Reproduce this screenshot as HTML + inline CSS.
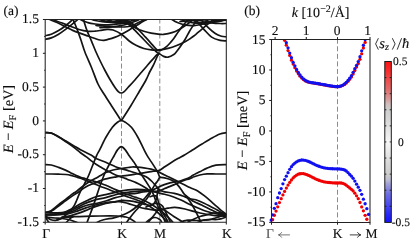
<!DOCTYPE html>
<html><head><meta charset="utf-8"><title>bands</title>
<style>
html,body{margin:0;padding:0;background:#fff;}
body{width:411px;height:247px;overflow:hidden;position:relative;font-family:"Liberation Serif",serif;color:#1a1a1a;}
svg{position:absolute;left:0;top:0;}
.t{position:absolute;white-space:nowrap;line-height:1;font-size:13px;color:#1c1c1c;}
.r{text-align:right;}
.i{font-style:italic;}
</style></head><body>

<svg width="411" height="247" viewBox="0 0 411 247">
<defs><clipPath id="ca"><rect x="45.20" y="19.50" width="181.10" height="202.80"/></clipPath>
<clipPath id="cb"><rect x="269.50" y="39.00" width="102.50" height="183.90"/></clipPath>
<linearGradient id="cbar" x1="0" y1="0" x2="0" y2="1"><stop offset="0.0000" stop-color="#ff1212"/><stop offset="0.0500" stop-color="#fa2828"/><stop offset="0.1026" stop-color="#f04646"/><stop offset="0.1770" stop-color="#e26e6e"/><stop offset="0.2390" stop-color="#d7a0a0"/><stop offset="0.2640" stop-color="#d2bebe"/><stop offset="0.3000" stop-color="#cdcdcd"/><stop offset="0.3640" stop-color="#d7d7d7"/><stop offset="0.4260" stop-color="#e6e6e6"/><stop offset="0.5000" stop-color="#f6f6f6"/><stop offset="0.5740" stop-color="#e6e6e6"/><stop offset="0.6360" stop-color="#d7d7d7"/><stop offset="0.7000" stop-color="#cdcdcd"/><stop offset="0.7360" stop-color="#bebed2"/><stop offset="0.7610" stop-color="#a0a0d7"/><stop offset="0.8230" stop-color="#6e6ee2"/><stop offset="0.8974" stop-color="#4646f0"/><stop offset="0.9500" stop-color="#2828fa"/><stop offset="1.0000" stop-color="#1212ff"/></linearGradient></defs>
<line x1="121.50" y1="19.50" x2="121.50" y2="222.30" stroke="#858585" stroke-width="0.95" stroke-dasharray="5 2.5" stroke-dashoffset="1"/>
<line x1="159.80" y1="19.50" x2="159.80" y2="222.30" stroke="#858585" stroke-width="0.95" stroke-dasharray="5 2.5" stroke-dashoffset="1"/>
<g clip-path="url(#ca)" fill="none" stroke="#141414" stroke-width="1.7" stroke-linecap="round" stroke-linejoin="round">
<path d="M70.00 11.00C70.53 12.43 71.93 16.33 73.20 19.60C74.47 22.87 76.27 27.07 77.60 30.60C78.93 34.13 79.98 37.23 81.20 40.80C82.42 44.37 83.22 47.63 84.90 52.00C86.58 56.37 89.12 61.67 91.30 67.00C93.48 72.33 95.88 79.50 98.00 84.00C100.12 88.50 101.67 90.25 104.00 94.00C106.33 97.75 109.58 102.75 112.00 106.50C114.42 110.25 116.97 114.20 118.50 116.50C120.03 118.80 120.28 120.30 121.20 120.30C122.12 120.30 122.37 118.97 124.00 116.50C125.63 114.03 128.50 109.58 131.00 105.50C133.50 101.42 136.50 96.25 139.00 92.00C141.50 87.75 144.22 83.33 146.00 80.00C147.78 76.67 148.47 74.47 149.70 72.00C150.93 69.53 152.30 67.43 153.40 65.20C154.50 62.97 155.58 60.18 156.30 58.60C157.02 57.02 157.25 56.50 157.70 55.70C158.15 54.90 158.78 54.12 159.00 53.80"/>
<path d="M80.60 11.00C81.07 12.43 82.33 16.33 83.40 19.60C84.47 22.87 85.67 27.07 87.00 30.60C88.33 34.13 89.90 37.23 91.40 40.80C92.90 44.37 94.45 48.47 96.00 52.00C97.55 55.53 99.20 58.92 100.70 62.00C102.20 65.08 103.45 67.58 105.00 70.50C106.55 73.42 108.33 76.67 110.00 79.50C111.67 82.33 113.62 85.48 115.00 87.50C116.38 89.52 117.27 90.68 118.30 91.60C119.33 92.52 120.22 93.00 121.20 93.00C122.18 93.00 123.07 92.52 124.20 91.60C125.33 90.68 126.37 89.27 128.00 87.50C129.63 85.73 131.72 83.58 134.00 81.00C136.28 78.42 139.45 74.63 141.70 72.00C143.95 69.37 145.55 67.43 147.50 65.20C149.45 62.97 151.82 60.35 153.40 58.60C154.98 56.85 156.07 55.60 157.00 54.70C157.93 53.80 158.67 53.45 159.00 53.20"/>
<path d="M45.20 214.80C45.40 215.08 45.95 215.97 46.40 216.50C46.85 217.03 47.00 217.42 47.90 218.00C48.80 218.58 50.33 219.65 51.80 220.00C53.27 220.35 55.08 220.43 56.70 220.10C58.32 219.77 59.88 218.92 61.50 218.00C63.12 217.08 64.93 215.82 66.40 214.60C67.87 213.38 69.00 212.20 70.30 210.70C71.60 209.20 73.12 207.38 74.20 205.60C75.28 203.82 75.83 202.22 76.80 200.00C77.77 197.78 78.70 195.03 80.00 192.30C81.30 189.57 83.20 186.32 84.60 183.60C86.00 180.88 87.13 178.85 88.40 176.00C89.67 173.15 90.85 169.87 92.20 166.50C93.55 163.13 95.20 158.68 96.50 155.80C97.80 152.92 98.45 152.25 100.00 149.20C101.55 146.15 103.73 141.15 105.80 137.50C107.87 133.85 110.45 129.85 112.40 127.30C114.35 124.75 116.02 123.30 117.50 122.20C118.98 121.10 120.00 120.70 121.30 120.70C122.60 120.70 123.62 121.10 125.30 122.20C126.98 123.30 129.28 124.75 131.40 127.30C133.52 129.85 135.93 133.85 138.00 137.50C140.07 141.15 142.27 146.18 143.80 149.20C145.33 152.22 145.98 153.53 147.20 155.60C148.42 157.67 149.80 159.60 151.10 161.60C152.40 163.60 153.88 165.78 155.00 167.60C156.12 169.42 157.02 170.88 157.80 172.50C158.58 174.12 159.38 176.50 159.70 177.30"/>
<path d="M86.00 227.00C86.18 226.22 86.32 224.67 87.10 222.30C87.88 219.93 89.48 216.08 90.70 212.80C91.92 209.52 93.22 206.03 94.40 202.60C95.58 199.17 96.85 195.05 97.80 192.20C98.75 189.35 99.23 187.92 100.10 185.50C100.97 183.08 102.15 179.87 103.00 177.70C103.85 175.53 104.42 174.20 105.20 172.50C105.98 170.80 106.80 169.25 107.70 167.50C108.60 165.75 109.55 163.92 110.60 162.00C111.65 160.08 112.85 158.02 114.00 156.00C115.15 153.98 116.28 151.45 117.50 149.90C118.72 148.35 120.00 146.70 121.30 146.70C122.60 146.70 123.95 148.35 125.30 149.90C126.65 151.45 128.12 154.17 129.40 156.00C130.68 157.83 131.97 159.43 133.00 160.90C134.03 162.37 134.42 162.87 135.60 164.80C136.78 166.73 138.48 169.88 140.10 172.50C141.72 175.12 143.72 178.07 145.30 180.50C146.88 182.93 148.52 185.42 149.60 187.10C150.68 188.78 151.07 189.12 151.80 190.60C152.53 192.08 153.13 193.77 154.00 196.00C154.87 198.23 156.00 201.50 157.00 204.00C158.00 206.50 158.92 208.67 160.00 211.00C161.08 213.33 162.33 215.50 163.50 218.00C164.67 220.50 166.42 224.67 167.00 226.00"/>
<path d="M45.00 35.70C46.05 35.45 49.03 35.05 51.30 34.20C53.57 33.35 56.17 32.05 58.60 30.60C61.03 29.15 63.72 27.20 65.90 25.50C68.08 23.80 70.02 22.15 71.70 20.40C73.38 18.65 75.28 15.90 76.00 15.00"/>
<path d="M45.00 39.40C46.05 39.15 49.03 38.77 51.30 37.90C53.57 37.03 56.17 35.67 58.60 34.20C61.03 32.73 63.47 30.92 65.90 29.10C68.33 27.28 71.25 24.88 73.20 23.30C75.15 21.72 76.13 20.98 77.60 19.60C79.07 18.22 81.27 15.77 82.00 15.00"/>
<path d="M40.00 14.00C41.63 14.93 46.70 18.05 49.80 19.60C52.90 21.15 55.92 22.07 58.60 23.30C61.28 24.53 63.47 25.78 65.90 27.00C68.33 28.22 70.77 29.53 73.20 30.60C75.63 31.67 78.07 32.50 80.50 33.40C82.93 34.30 85.37 35.15 87.80 36.00C90.23 36.85 93.07 37.83 95.10 38.50C97.13 39.17 98.52 39.70 100.00 40.00C101.48 40.30 102.78 40.37 104.00 40.30C105.22 40.23 105.53 40.08 107.30 39.60C109.07 39.12 112.23 38.30 114.60 37.40C116.97 36.50 119.07 35.45 121.50 34.20C123.93 32.95 126.70 31.35 129.20 29.90C131.70 28.45 134.07 26.97 136.50 25.50C138.93 24.03 142.10 22.08 143.80 21.10C145.50 20.12 145.33 20.45 146.70 19.60C148.07 18.75 151.12 16.60 152.00 16.00"/>
<path d="M46.00 15.00C47.13 15.77 50.22 18.30 52.80 19.60C55.38 20.90 58.58 21.70 61.50 22.80C64.42 23.90 67.38 25.08 70.30 26.20C73.22 27.32 76.08 28.65 79.00 29.50C81.92 30.35 85.12 31.02 87.80 31.30C90.48 31.58 93.07 31.33 95.10 31.20C97.13 31.07 97.97 30.82 100.00 30.50C102.03 30.18 105.12 29.38 107.30 29.30C109.48 29.22 110.73 29.18 113.10 30.00C115.47 30.82 118.82 32.37 121.50 34.20C124.18 36.03 126.70 39.10 129.20 41.00C131.70 42.90 134.07 44.35 136.50 45.60C138.93 46.85 141.37 47.80 143.80 48.50C146.23 49.20 148.47 49.57 151.10 49.80C153.73 50.03 156.78 50.13 159.60 49.90C162.42 49.67 165.15 49.13 168.00 48.40C170.85 47.67 173.78 46.67 176.70 45.50C179.62 44.33 183.30 42.52 185.50 41.40C187.70 40.28 188.52 39.70 189.90 38.80C191.28 37.90 191.93 37.50 193.80 36.00C195.67 34.50 198.73 31.83 201.10 29.80C203.47 27.77 206.18 25.30 208.00 23.80C209.82 22.30 211.00 21.53 212.00 20.80C213.00 20.07 212.67 20.37 214.00 19.40C215.33 18.43 219.00 15.73 220.00 15.00"/>
<path d="M118.00 13.00C119.00 14.08 121.77 17.42 124.00 19.50C126.23 21.58 129.32 24.02 131.40 25.50C133.48 26.98 134.43 27.43 136.50 28.40C138.57 29.37 141.37 30.50 143.80 31.30C146.23 32.10 148.42 32.70 151.10 33.20C153.78 33.70 157.82 34.10 159.90 34.30C161.98 34.50 161.58 34.68 163.60 34.40C165.62 34.12 169.40 33.43 172.00 32.60C174.60 31.77 176.78 30.70 179.20 29.40C181.62 28.10 184.32 26.30 186.50 24.80C188.68 23.30 191.05 21.37 192.30 20.40C193.55 19.43 193.05 19.90 194.00 19.00C194.95 18.10 197.33 15.67 198.00 15.00"/>
<path d="M76.00 14.00C76.75 14.93 78.53 18.17 80.50 19.60C82.47 21.03 85.37 21.87 87.80 22.60C90.23 23.33 92.42 23.63 95.10 24.00C97.78 24.37 101.08 24.70 103.90 24.80C106.72 24.90 109.32 24.77 112.00 24.60C114.68 24.43 117.83 24.03 120.00 23.80C122.17 23.57 123.67 23.20 125.00 23.20C126.33 23.20 126.42 22.68 128.00 23.80C129.58 24.92 132.25 27.67 134.50 29.90C136.75 32.13 139.17 34.77 141.50 37.20C143.83 39.63 146.58 42.53 148.50 44.50C150.42 46.47 151.70 47.78 153.00 49.00C154.30 50.22 155.30 51.07 156.30 51.80C157.30 52.53 157.78 52.63 159.00 53.40C160.22 54.17 162.10 55.77 163.60 56.40C165.10 57.03 166.30 57.52 168.00 57.20C169.70 56.88 172.30 55.53 173.80 54.50C175.30 53.47 175.97 52.25 177.00 51.00C178.03 49.75 178.63 48.97 180.00 47.00C181.37 45.03 183.63 41.78 185.20 39.20C186.77 36.62 187.97 33.95 189.40 31.50C190.83 29.05 192.58 26.42 193.80 24.50C195.02 22.58 195.83 21.42 196.70 20.00C197.57 18.58 198.62 16.67 199.00 16.00"/>
<path d="M94.00 15.00C95.00 15.80 97.67 18.72 100.00 19.80C102.33 20.88 105.33 21.00 108.00 21.50C110.67 22.00 113.33 22.52 116.00 22.80C118.67 23.08 121.83 23.18 124.00 23.20C126.17 23.22 127.58 22.80 129.00 22.90C130.42 23.00 131.00 22.77 132.50 23.80C134.00 24.83 135.83 26.87 138.00 29.10C140.17 31.33 143.43 34.95 145.50 37.20C147.57 39.45 148.73 40.73 150.40 42.60C152.07 44.47 154.15 47.07 155.50 48.40C156.85 49.73 157.52 50.35 158.50 50.60C159.48 50.85 160.07 50.57 161.40 49.90C162.73 49.23 164.98 47.83 166.50 46.60C168.02 45.37 169.32 43.80 170.50 42.50C171.68 41.20 172.23 40.67 173.60 38.80C174.97 36.93 176.98 33.68 178.70 31.30C180.42 28.92 182.35 26.48 183.90 24.50C185.45 22.52 186.90 20.90 188.00 19.40C189.10 17.90 190.08 16.15 190.50 15.50"/>
<path d="M190.00 13.00C190.97 14.17 193.42 17.20 195.80 20.00C198.18 22.80 201.67 26.95 204.30 29.80C206.93 32.65 208.97 35.33 211.60 37.10C214.23 38.87 217.65 39.77 220.10 40.40C222.55 41.03 225.27 40.82 226.30 40.90"/>
<path d="M196.00 13.00C196.88 14.17 199.30 17.60 201.30 20.00C203.30 22.40 205.67 25.15 208.00 27.40C210.33 29.65 213.07 32.03 215.30 33.50C217.53 34.97 219.57 35.65 221.40 36.20C223.23 36.75 225.48 36.70 226.30 36.80"/>
<path d="M166.00 15.00C167.00 15.77 170.00 18.30 172.00 19.60C174.00 20.90 175.67 21.87 178.00 22.80C180.33 23.73 183.33 24.73 186.00 25.20C188.67 25.67 191.33 25.77 194.00 25.60C196.67 25.43 199.33 24.77 202.00 24.20C204.67 23.63 207.33 22.82 210.00 22.20C212.67 21.58 215.28 20.90 218.00 20.50C220.72 20.10 224.92 19.92 226.30 19.80"/>
<path d="M174.00 15.00C175.17 15.77 178.67 18.43 181.00 19.60C183.33 20.77 185.50 21.40 188.00 22.00C190.50 22.60 193.33 23.10 196.00 23.20C198.67 23.30 201.33 22.93 204.00 22.60C206.67 22.27 209.33 21.70 212.00 21.20C214.67 20.70 218.00 20.13 220.00 19.60C222.00 19.07 223.33 18.27 224.00 18.00"/>
<path d="M180.00 21.50C181.33 21.38 185.33 21.00 188.00 20.80C190.67 20.60 193.33 20.27 196.00 20.30C198.67 20.33 201.33 20.58 204.00 21.00C206.67 21.42 209.33 22.38 212.00 22.80C214.67 23.22 217.62 23.38 220.00 23.50C222.38 23.62 225.25 23.50 226.30 23.50"/>
<path d="M186.00 15.00C187.00 15.77 190.00 18.35 192.00 19.60C194.00 20.85 196.00 21.80 198.00 22.50C200.00 23.20 202.00 23.68 204.00 23.80C206.00 23.92 208.00 23.58 210.00 23.20C212.00 22.82 214.00 22.10 216.00 21.50C218.00 20.90 221.00 19.92 222.00 19.60"/>
<path d="M200.00 15.00C200.83 15.77 203.33 18.52 205.00 19.60C206.67 20.68 208.17 21.13 210.00 21.50C211.83 21.87 214.00 21.92 216.00 21.80C218.00 21.68 220.28 21.10 222.00 20.80C223.72 20.50 225.58 20.13 226.30 20.00"/>
<path d="M84.00 14.00C85.33 14.93 89.67 18.43 92.00 19.60C94.33 20.77 96.00 20.63 98.00 21.00C100.00 21.37 101.67 21.58 104.00 21.80C106.33 22.02 109.33 22.17 112.00 22.30C114.67 22.43 117.67 22.60 120.00 22.60C122.33 22.60 124.17 22.57 126.00 22.30C127.83 22.03 129.33 21.45 131.00 21.00C132.67 20.55 134.50 20.27 136.00 19.60C137.50 18.93 139.33 17.43 140.00 17.00"/>
<path d="M96.00 25.50C97.00 25.55 100.00 25.65 102.00 25.80C104.00 25.95 105.67 26.23 108.00 26.40C110.33 26.57 113.33 26.70 116.00 26.80C118.67 26.90 121.67 27.10 124.00 27.00C126.33 26.90 128.00 26.73 130.00 26.20C132.00 25.67 134.00 24.70 136.00 23.80C138.00 22.90 140.33 21.68 142.00 20.80C143.67 19.92 145.33 18.88 146.00 18.50"/>
<path d="M100.00 27.60C101.00 27.57 104.00 27.50 106.00 27.40C108.00 27.30 110.00 27.20 112.00 27.00C114.00 26.80 116.00 26.53 118.00 26.20C120.00 25.87 122.00 25.50 124.00 25.00C126.00 24.50 128.00 23.87 130.00 23.20C132.00 22.53 134.33 21.70 136.00 21.00C137.67 20.30 139.33 19.33 140.00 19.00"/>
<path d="M100.00 15.00C101.00 15.77 104.00 18.60 106.00 19.60C108.00 20.60 110.00 20.73 112.00 21.00C114.00 21.27 116.00 21.27 118.00 21.20C120.00 21.13 122.00 20.87 124.00 20.60C126.00 20.33 128.33 20.03 130.00 19.60C131.67 19.17 133.33 18.27 134.00 18.00"/>
<path d="M108.00 15.00C109.00 15.77 112.00 18.67 114.00 19.60C116.00 20.53 118.00 20.27 120.00 20.60C122.00 20.93 124.00 21.03 126.00 21.60C128.00 22.17 130.33 23.18 132.00 24.00C133.67 24.82 135.33 26.08 136.00 26.50"/>
<path d="M45.20 132.60C46.22 132.67 49.07 132.32 51.30 133.00C53.53 133.68 56.17 135.35 58.60 136.70C61.03 138.05 63.47 139.65 65.90 141.10C68.33 142.55 70.77 143.95 73.20 145.40C75.63 146.85 78.07 148.45 80.50 149.80C82.93 151.15 85.85 152.50 87.80 153.50C89.75 154.50 90.83 154.98 92.20 155.80C93.57 156.62 93.75 157.32 96.00 158.40C98.25 159.48 102.45 160.92 105.70 162.30C108.95 163.68 112.87 165.63 115.50 166.70C118.13 167.77 119.40 168.05 121.50 168.70C123.60 169.35 125.70 169.88 128.10 170.60C130.50 171.32 133.28 172.13 135.90 173.00C138.52 173.87 141.78 174.97 143.80 175.80C145.82 176.63 146.63 177.05 148.00 178.00C149.37 178.95 150.67 180.17 152.00 181.50C153.33 182.83 154.72 184.58 156.00 186.00C157.28 187.42 158.27 189.03 159.70 190.00C161.13 190.97 162.17 191.25 164.60 191.80C167.03 192.35 171.38 192.65 174.30 193.30C177.22 193.95 179.50 194.80 182.10 195.70C184.70 196.60 187.62 198.02 189.90 198.70C192.18 199.38 193.52 199.08 195.80 199.80C198.08 200.52 201.00 201.80 203.60 203.00C206.20 204.20 209.13 205.83 211.40 207.00C213.67 208.17 215.43 209.03 217.20 210.00C218.97 210.97 220.48 212.03 222.00 212.80C223.52 213.57 225.58 214.30 226.30 214.60"/>
<path d="M45.20 132.60C46.22 132.68 49.07 132.37 51.30 133.10C53.53 133.83 56.17 135.55 58.60 137.00C61.03 138.45 63.47 140.15 65.90 141.80C68.33 143.45 70.77 145.08 73.20 146.90C75.63 148.72 78.37 151.08 80.50 152.70C82.63 154.32 84.30 155.33 86.00 156.60C87.70 157.87 89.03 159.02 90.70 160.30C92.37 161.58 94.15 163.07 96.00 164.30C97.85 165.53 99.85 166.57 101.80 167.70C103.75 168.83 105.75 170.05 107.70 171.10C109.65 172.15 111.55 173.12 113.50 174.00C115.45 174.88 117.45 175.67 119.40 176.40C121.35 177.13 123.58 177.80 125.20 178.40C126.82 179.00 127.30 179.30 129.10 180.00C130.90 180.70 133.68 181.57 136.00 182.60C138.32 183.63 141.00 185.05 143.00 186.20C145.00 187.35 146.58 188.73 148.00 189.50C149.42 190.27 150.20 190.33 151.50 190.80C152.80 191.27 153.62 191.72 155.80 192.30C157.98 192.88 161.52 193.48 164.60 194.30C167.68 195.12 171.38 196.15 174.30 197.20C177.22 198.25 179.50 199.38 182.10 200.60C184.70 201.82 187.25 203.27 189.90 204.50C192.55 205.73 195.15 206.83 198.00 208.00C200.85 209.17 203.83 210.50 207.00 211.50C210.17 212.50 213.78 213.33 217.00 214.00C220.22 214.67 224.75 215.25 226.30 215.50"/>
<path d="M45.20 164.60C46.22 164.67 49.07 164.53 51.30 165.00C53.53 165.47 56.15 166.50 58.60 167.40C61.05 168.30 63.95 169.48 66.00 170.40C68.05 171.32 69.28 172.08 70.90 172.90C72.52 173.72 74.08 174.57 75.70 175.30C77.32 176.03 78.97 176.73 80.60 177.30C82.23 177.87 83.88 178.22 85.50 178.70C87.12 179.18 88.68 179.72 90.30 180.20C91.92 180.68 93.57 181.12 95.20 181.60C96.83 182.08 98.32 182.50 100.10 183.10C101.88 183.70 103.33 184.12 105.90 185.20C108.47 186.28 112.90 188.43 115.50 189.60C118.10 190.77 119.40 191.33 121.50 192.20C123.60 193.07 125.70 193.93 128.10 194.80C130.50 195.67 133.42 196.53 135.90 197.40C138.38 198.27 140.65 198.98 143.00 200.00C145.35 201.02 147.67 202.17 150.00 203.50C152.33 204.83 154.67 206.33 157.00 208.00C159.33 209.67 161.83 211.67 164.00 213.50C166.17 215.33 168.00 216.92 170.00 219.00C172.00 221.08 175.00 224.83 176.00 226.00"/>
<path d="M45.20 174.00C46.22 174.00 49.07 173.97 51.30 174.00C53.53 174.03 56.15 174.12 58.60 174.20C61.05 174.28 63.95 174.32 66.00 174.50C68.05 174.68 69.28 174.92 70.90 175.30C72.52 175.68 74.08 176.32 75.70 176.80C77.32 177.28 78.97 177.63 80.60 178.20C82.23 178.77 83.88 179.55 85.50 180.20C87.12 180.85 88.68 181.45 90.30 182.10C91.92 182.75 93.57 183.40 95.20 184.10C96.83 184.80 98.35 185.60 100.10 186.30C101.85 187.00 103.13 187.32 105.70 188.30C108.27 189.28 112.87 191.18 115.50 192.20C118.13 193.22 119.40 193.60 121.50 194.40C123.60 195.20 125.70 196.13 128.10 197.00C130.50 197.87 133.42 198.68 135.90 199.60C138.38 200.52 140.65 201.35 143.00 202.50C145.35 203.65 147.83 205.08 150.00 206.50C152.17 207.92 154.00 209.33 156.00 211.00C158.00 212.67 160.17 214.67 162.00 216.50C163.83 218.33 165.67 220.25 167.00 222.00C168.33 223.75 169.50 226.17 170.00 227.00"/>
<path d="M45.20 212.50C45.97 212.30 48.38 211.95 49.80 211.30C51.22 210.65 52.23 209.72 53.70 208.60C55.17 207.48 56.97 205.87 58.60 204.60C60.23 203.33 62.28 201.90 63.50 201.00C64.72 200.10 64.28 200.47 65.90 199.20C67.52 197.93 71.57 194.60 73.20 193.40C74.83 192.20 74.47 192.90 75.70 192.00C76.93 191.10 78.97 189.30 80.60 188.00C82.23 186.70 83.88 185.33 85.50 184.20C87.12 183.07 88.68 182.13 90.30 181.20C91.92 180.27 93.50 179.55 95.20 178.60C96.90 177.65 98.75 176.50 100.50 175.50C102.25 174.50 104.02 173.38 105.70 172.60C107.38 171.82 108.97 171.32 110.60 170.80C112.23 170.28 113.68 169.88 115.50 169.50C117.32 169.12 119.40 168.83 121.50 168.50C123.60 168.17 126.35 167.75 128.10 167.50C129.85 167.25 130.60 167.07 132.00 167.00C133.40 166.93 134.53 166.97 136.50 167.10C138.47 167.23 141.37 167.45 143.80 167.80C146.23 168.15 149.07 168.70 151.10 169.20C153.13 169.70 154.57 170.23 156.00 170.80C157.43 171.37 158.27 171.92 159.70 172.60C161.13 173.28 162.97 174.12 164.60 174.90C166.23 175.68 167.07 176.08 169.50 177.30C171.93 178.52 175.80 180.50 179.20 182.20C182.60 183.90 186.82 186.05 189.90 187.50C192.98 188.95 195.10 189.37 197.70 190.90C200.30 192.43 203.07 194.75 205.50 196.70C207.93 198.65 210.35 200.90 212.30 202.60C214.25 204.30 215.57 205.47 217.20 206.90C218.83 208.33 220.58 209.98 222.10 211.20C223.62 212.42 225.60 213.70 226.30 214.20"/>
<path d="M45.20 212.60C45.97 212.48 48.38 212.38 49.80 211.90C51.22 211.42 52.23 210.68 53.70 209.70C55.17 208.72 56.97 207.22 58.60 206.00C60.23 204.78 62.28 203.30 63.50 202.40C64.72 201.50 64.28 201.77 65.90 200.60C67.52 199.43 71.07 196.83 73.20 195.40C75.33 193.97 76.98 193.17 78.70 192.00C80.42 190.83 81.88 189.48 83.50 188.40C85.12 187.32 86.77 186.30 88.40 185.50C90.03 184.70 91.68 184.25 93.30 183.60C94.92 182.95 96.48 182.25 98.10 181.60C99.72 180.95 101.47 180.20 103.00 179.70C104.53 179.20 105.37 179.02 107.30 178.60C109.23 178.18 112.23 177.63 114.60 177.20C116.97 176.77 119.07 176.33 121.50 176.00C123.93 175.67 126.70 175.53 129.20 175.20C131.70 174.87 134.07 174.40 136.50 174.00C138.93 173.60 141.37 173.20 143.80 172.80C146.23 172.40 149.07 171.90 151.10 171.60C153.13 171.30 154.57 171.23 156.00 171.00C157.43 170.77 158.23 170.92 159.70 170.20C161.17 169.48 162.98 167.90 164.80 166.70C166.62 165.50 168.42 164.35 170.60 163.00C172.78 161.65 175.58 159.93 177.90 158.60C180.22 157.27 182.08 156.43 184.50 155.00C186.92 153.57 189.48 151.83 192.40 150.00C195.32 148.17 198.73 146.00 202.00 144.00C205.27 142.00 209.00 139.67 212.00 138.00C215.00 136.33 217.62 134.90 220.00 134.00C222.38 133.10 225.25 132.83 226.30 132.60"/>
<path d="M45.20 212.50C46.62 212.55 50.65 212.83 53.70 212.80C56.75 212.77 60.90 212.77 63.50 212.30C66.10 211.83 67.35 210.90 69.30 210.00C71.25 209.10 73.33 207.93 75.20 206.90C77.07 205.87 78.40 204.92 80.50 203.80C82.60 202.68 85.22 201.38 87.80 200.20C90.38 199.02 93.02 197.62 96.00 196.70C98.98 195.78 102.45 195.43 105.70 194.70C108.95 193.97 112.87 192.95 115.50 192.30C118.13 191.65 119.40 191.22 121.50 190.80C123.60 190.38 125.70 190.03 128.10 189.80C130.50 189.57 133.42 189.43 135.90 189.40C138.38 189.37 140.48 189.43 143.00 189.60C145.52 189.77 148.87 190.58 151.00 190.40C153.13 190.22 154.02 189.30 155.80 188.50C157.58 187.70 159.75 186.42 161.70 185.60C163.65 184.78 165.55 184.17 167.50 183.60C169.45 183.03 171.45 182.60 173.40 182.20C175.35 181.80 177.27 181.68 179.20 181.20C181.13 180.72 183.22 179.95 185.00 179.30C186.78 178.65 188.65 177.92 189.90 177.30C191.15 176.68 190.85 176.52 192.50 175.60C194.15 174.68 197.37 173.05 199.80 171.80C202.23 170.55 204.42 169.20 207.10 168.10C209.78 167.00 212.70 165.78 215.90 165.20C219.10 164.62 224.57 164.70 226.30 164.60"/>
<path d="M45.20 212.60C46.62 212.67 50.65 212.95 53.70 213.00C56.75 213.05 60.90 213.20 63.50 212.90C66.10 212.60 67.35 211.93 69.30 211.20C71.25 210.47 73.33 209.42 75.20 208.50C77.07 207.58 78.40 206.72 80.50 205.70C82.60 204.68 85.22 203.42 87.80 202.40C90.38 201.38 93.02 200.40 96.00 199.60C98.98 198.80 102.45 198.42 105.70 197.60C108.95 196.78 112.87 195.42 115.50 194.70C118.13 193.98 119.40 193.70 121.50 193.30C123.60 192.90 125.70 192.63 128.10 192.30C130.50 191.97 133.42 191.55 135.90 191.30C138.38 191.05 140.48 190.92 143.00 190.80C145.52 190.68 148.92 190.50 151.00 190.60C153.08 190.70 154.05 191.35 155.50 191.40C156.95 191.45 158.18 191.38 159.70 190.90C161.22 190.42 162.97 189.22 164.60 188.50C166.23 187.78 167.88 187.25 169.50 186.60C171.12 185.95 172.68 185.30 174.30 184.60C175.92 183.90 177.58 183.10 179.20 182.40C180.82 181.70 182.22 181.03 184.00 180.40C185.78 179.77 188.23 179.20 189.90 178.60C191.57 178.00 192.35 177.40 194.00 176.80C195.65 176.20 197.62 175.48 199.80 175.00C201.98 174.52 204.42 174.07 207.10 173.90C209.78 173.73 212.70 173.98 215.90 174.00C219.10 174.02 224.57 174.00 226.30 174.00"/>
<path d="M45.20 214.80C46.62 214.80 50.65 214.93 53.70 214.80C56.75 214.67 60.90 214.38 63.50 214.00C66.10 213.62 67.35 213.13 69.30 212.50C71.25 211.87 73.33 211.02 75.20 210.20C77.07 209.38 78.40 208.47 80.50 207.60C82.60 206.73 85.22 205.68 87.80 205.00C90.38 204.32 93.02 204.17 96.00 203.50C98.98 202.83 102.45 201.98 105.70 201.00C108.95 200.02 112.87 198.40 115.50 197.60C118.13 196.80 119.40 196.77 121.50 196.20C123.60 195.63 125.70 194.68 128.10 194.20C130.50 193.72 133.42 193.67 135.90 193.30C138.38 192.93 140.48 192.42 143.00 192.00C145.52 191.58 149.67 191.00 151.00 190.80"/>
<path d="M62.00 217.00C63.33 216.80 67.33 216.40 70.00 215.80C72.67 215.20 75.33 214.30 78.00 213.40C80.67 212.50 83.88 211.23 86.00 210.40C88.12 209.57 89.03 209.07 90.70 208.40C92.37 207.73 93.50 207.22 96.00 206.40C98.50 205.58 102.45 204.30 105.70 203.50C108.95 202.70 112.78 202.12 115.50 201.60C118.22 201.08 119.62 200.52 122.00 200.40C124.38 200.28 127.20 200.57 129.80 200.90C132.40 201.23 135.17 201.83 137.60 202.40C140.03 202.97 142.45 203.82 144.40 204.30C146.35 204.78 148.00 205.22 149.30 205.30C150.60 205.38 151.40 205.12 152.20 204.80C153.00 204.48 153.53 204.05 154.10 203.40C154.67 202.75 155.18 201.80 155.60 200.90C156.02 200.00 156.30 199.23 156.60 198.00C156.90 196.77 157.13 195.00 157.40 193.50C157.67 192.00 158.07 189.75 158.20 189.00"/>
<path d="M45.20 214.80C46.62 214.82 50.65 214.95 53.70 214.90C56.75 214.85 60.90 214.73 63.50 214.50C66.10 214.27 67.35 213.95 69.30 213.50C71.25 213.05 72.77 212.62 75.20 211.80C77.63 210.98 81.32 209.53 83.90 208.60C86.48 207.67 88.68 206.83 90.70 206.20C92.72 205.57 93.80 205.33 96.00 204.80C98.20 204.27 101.57 203.43 103.90 203.00C106.23 202.57 107.98 202.40 110.00 202.20C112.02 202.00 114.00 201.85 116.00 201.80C118.00 201.75 120.03 201.63 122.00 201.90C123.97 202.17 125.85 202.83 127.80 203.40C129.75 203.97 131.75 204.65 133.70 205.30C135.65 205.95 137.55 206.73 139.50 207.30C141.45 207.87 143.45 208.30 145.40 208.70C147.35 209.10 149.25 209.45 151.20 209.70C153.15 209.95 155.30 210.20 157.10 210.20C158.90 210.20 160.18 210.03 162.00 209.70C163.82 209.37 165.83 208.58 168.00 208.20C170.17 207.82 172.17 207.27 175.00 207.40C177.83 207.53 180.83 208.07 185.00 209.00C189.17 209.93 195.00 211.90 200.00 213.00C205.00 214.10 210.62 215.07 215.00 215.60C219.38 216.13 224.42 216.10 226.30 216.20"/>
<path d="M57.00 220.00C57.67 219.77 59.50 219.07 61.00 218.60C62.50 218.13 63.83 217.52 66.00 217.20C68.17 216.88 70.83 216.85 74.00 216.70C77.17 216.55 80.67 216.42 85.00 216.30C89.33 216.18 95.83 216.07 100.00 216.00C104.17 215.93 107.08 215.90 110.00 215.90C112.92 215.90 115.50 215.90 117.50 216.00C119.50 216.10 120.60 216.33 122.00 216.50C123.40 216.67 124.60 216.68 125.90 217.00C127.20 217.32 128.50 217.75 129.80 218.40C131.10 219.05 132.82 220.27 133.70 220.90C134.58 221.53 134.55 221.35 135.10 222.20C135.65 223.05 136.68 225.37 137.00 226.00"/>
<path d="M45.20 216.50C45.58 217.17 46.62 219.32 47.50 220.50C48.38 221.68 49.08 222.68 50.50 223.60C51.92 224.52 54.08 225.73 56.00 226.00C57.92 226.27 60.27 225.80 62.00 225.20C63.73 224.60 65.07 223.50 66.40 222.40C67.73 221.30 68.90 219.53 70.00 218.60C71.10 217.67 72.50 217.10 73.00 216.80"/>
<path d="M45.20 217.20C46.83 217.33 52.20 217.78 55.00 218.00C57.80 218.22 59.78 218.25 62.00 218.50C64.22 218.75 66.43 219.08 68.30 219.50C70.17 219.92 71.73 220.48 73.20 221.00C74.67 221.52 75.97 221.93 77.10 222.60C78.23 223.27 79.52 224.60 80.00 225.00"/>
<path d="M124.00 227.00C124.48 226.17 125.62 223.92 126.90 222.00C128.18 220.08 130.08 217.55 131.70 215.50C133.32 213.45 134.97 211.57 136.60 209.70C138.23 207.83 139.88 206.00 141.50 204.30C143.12 202.60 144.95 201.13 146.30 199.50C147.65 197.87 148.68 196.08 149.60 194.50C150.52 192.92 150.92 191.65 151.80 190.00C152.68 188.35 153.90 186.15 154.90 184.60C155.90 183.05 157.00 181.92 157.80 180.70C158.60 179.48 159.38 177.87 159.70 177.30"/>
<path d="M92.00 227.00C92.83 226.25 95.07 223.70 97.00 222.50C98.93 221.30 100.80 220.58 103.60 219.80C106.40 219.02 110.82 218.52 113.80 217.80C116.78 217.08 118.80 216.55 121.50 215.50C124.20 214.45 127.25 213.17 130.00 211.50C132.75 209.83 135.50 207.75 138.00 205.50C140.50 203.25 142.92 200.38 145.00 198.00C147.08 195.62 149.58 192.33 150.50 191.20"/>
<path d="M146.00 227.00C146.38 226.22 147.07 224.13 148.30 222.30C149.53 220.47 151.70 218.13 153.40 216.00C155.10 213.87 157.45 210.83 158.50 209.50C159.55 208.17 158.45 207.75 159.70 208.00C160.95 208.25 163.65 209.58 166.00 211.00C168.35 212.42 171.13 214.75 173.80 216.50C176.47 218.25 179.63 219.92 182.00 221.50C184.37 223.08 187.00 225.25 188.00 226.00"/>
<path d="M143.00 227.00C143.67 226.08 145.63 222.93 147.00 221.50C148.37 220.07 149.85 219.07 151.20 218.40C152.55 217.73 153.80 217.42 155.10 217.50C156.40 217.58 158.02 218.33 159.00 218.90C159.98 219.47 160.33 219.72 161.00 220.90C161.67 222.08 162.67 225.15 163.00 226.00"/>
<path d="M159.70 177.30C160.52 177.38 162.97 177.47 164.60 177.80C166.23 178.13 167.88 178.65 169.50 179.30C171.12 179.95 172.85 180.65 174.30 181.70C175.75 182.75 177.05 184.28 178.20 185.60C179.35 186.92 180.15 188.13 181.20 189.60C182.25 191.07 183.05 192.85 184.50 194.40C185.95 195.95 188.35 197.70 189.90 198.90C191.45 200.10 191.85 200.58 193.80 201.60C195.75 202.62 199.00 203.78 201.60 205.00C204.20 206.22 206.83 207.65 209.40 208.90C211.97 210.15 214.18 211.48 217.00 212.50C219.82 213.52 224.75 214.58 226.30 215.00"/>
<path d="M150.00 196.70C150.65 196.53 152.77 195.70 153.90 195.70C155.03 195.70 156.15 196.05 156.80 196.70C157.45 197.35 157.47 198.47 157.80 199.60C158.13 200.73 158.32 202.03 158.80 203.50C159.28 204.97 159.92 206.65 160.70 208.40C161.48 210.15 162.45 212.07 163.50 214.00C164.55 215.93 165.92 218.00 167.00 220.00C168.08 222.00 169.50 225.00 170.00 226.00"/>
<path d="M146.00 207.00C146.67 206.75 148.52 206.08 150.00 205.50C151.48 204.92 153.28 203.75 154.90 203.50C156.52 203.25 158.40 203.52 159.70 204.00C161.00 204.48 161.88 205.40 162.70 206.40C163.52 207.40 163.72 208.23 164.60 210.00C165.48 211.77 166.77 214.33 168.00 217.00C169.23 219.67 171.33 224.50 172.00 226.00"/>
<path d="M186.00 196.00C186.67 196.92 188.70 199.53 190.00 201.50C191.30 203.47 192.67 205.77 193.80 207.80C194.93 209.83 195.82 211.75 196.80 213.70C197.78 215.65 198.83 217.62 199.70 219.50C200.57 221.38 201.62 224.08 202.00 225.00"/>
<path d="M176.00 226.00C176.67 225.42 178.00 223.47 180.00 222.50C182.00 221.53 185.05 220.53 188.00 220.20C190.95 219.87 194.45 220.53 197.70 220.50C200.95 220.47 204.90 220.32 207.50 220.00C210.10 219.68 211.20 219.20 213.30 218.60C215.40 218.00 217.93 217.05 220.10 216.40C222.27 215.75 225.27 214.98 226.30 214.70"/>
<path d="M188.00 222.00C189.00 221.50 192.00 219.92 194.00 219.00C196.00 218.08 197.75 217.23 200.00 216.50C202.25 215.77 205.28 215.15 207.50 214.60C209.72 214.05 211.20 213.48 213.30 213.20C215.40 212.92 217.93 212.77 220.10 212.90C222.27 213.03 225.27 213.82 226.30 214.00"/>
<path d="M192.00 226.00C192.95 225.42 195.77 223.50 197.70 222.50C199.63 221.50 201.65 220.50 203.60 220.00C205.55 219.50 207.13 219.58 209.40 219.50C211.67 219.42 215.08 219.67 217.20 219.50C219.32 219.33 220.58 218.93 222.10 218.50C223.62 218.07 225.60 217.17 226.30 216.90"/>
</g>
<g stroke="#222222" stroke-width="1.05" fill="none">
<path d="M45.20 19.50 H226.30 V222.30 H45.20 Z"/>
<path d="M45.20 19.50 h-2.30"/>
<path d="M45.20 36.40 h-1.00"/>
<path d="M45.20 53.30 h-2.30"/>
<path d="M45.20 70.20 h-1.00"/>
<path d="M45.20 87.10 h-2.30"/>
<path d="M45.20 104.00 h-1.00"/>
<path d="M45.20 120.90 h-2.30"/>
<path d="M45.20 137.80 h-1.00"/>
<path d="M45.20 154.70 h-2.30"/>
<path d="M45.20 171.60 h-1.00"/>
<path d="M45.20 188.50 h-2.30"/>
<path d="M45.20 205.40 h-1.00"/>
<path d="M45.20 222.30 h-2.30"/>
<path d="M45.20 222.30 v2.3"/>
<path d="M121.50 222.30 v2.3"/>
<path d="M159.80 222.30 v2.3"/>
<path d="M226.30 222.30 v2.3"/>
</g>
<line x1="337.50" y1="39.50" x2="337.50" y2="222.40" stroke="#858585" stroke-width="0.95" stroke-dasharray="5 2.55" stroke-dashoffset="0.75"/>
<g clip-path="url(#cb)">
<circle cx="270.90" cy="3.66" r="1.65" fill="#f00000"/>
<circle cx="272.61" cy="5.94" r="1.65" fill="#f00000"/>
<circle cx="274.33" cy="9.58" r="1.65" fill="#f00000"/>
<circle cx="276.04" cy="14.22" r="1.65" fill="#f00000"/>
<circle cx="277.75" cy="19.51" r="1.65" fill="#f00000"/>
<circle cx="279.46" cy="25.08" r="1.65" fill="#f00000"/>
<circle cx="281.18" cy="30.59" r="1.65" fill="#f00000"/>
<circle cx="282.89" cy="35.69" r="1.65" fill="#f00000"/>
<circle cx="284.60" cy="40.34" r="1.65" fill="#f00000"/>
<circle cx="286.32" cy="45.18" r="1.65" fill="#f00000"/>
<circle cx="288.03" cy="50.57" r="1.65" fill="#f00000"/>
<circle cx="289.74" cy="55.44" r="1.65" fill="#f00000"/>
<circle cx="291.46" cy="60.21" r="1.65" fill="#f00000"/>
<circle cx="293.17" cy="64.10" r="1.65" fill="#f00000"/>
<circle cx="294.88" cy="67.64" r="1.65" fill="#f00000"/>
<circle cx="296.59" cy="71.05" r="1.65" fill="#f00000"/>
<circle cx="298.31" cy="73.82" r="1.65" fill="#f00000"/>
<circle cx="300.02" cy="76.13" r="1.65" fill="#f00000"/>
<circle cx="301.73" cy="78.05" r="1.65" fill="#f00000"/>
<circle cx="303.45" cy="79.59" r="1.65" fill="#f00000"/>
<circle cx="305.16" cy="80.77" r="1.65" fill="#f00000"/>
<circle cx="306.87" cy="81.62" r="1.65" fill="#f00000"/>
<circle cx="308.59" cy="82.20" r="1.65" fill="#f00000"/>
<circle cx="310.30" cy="82.59" r="1.65" fill="#f00000"/>
<circle cx="312.01" cy="82.87" r="1.65" fill="#f00000"/>
<circle cx="313.72" cy="83.10" r="1.65" fill="#f00000"/>
<circle cx="315.44" cy="83.35" r="1.65" fill="#f00000"/>
<circle cx="317.15" cy="83.63" r="1.65" fill="#f00000"/>
<circle cx="318.86" cy="83.92" r="1.65" fill="#f00000"/>
<circle cx="320.58" cy="84.23" r="1.65" fill="#f00000"/>
<circle cx="322.29" cy="84.56" r="1.65" fill="#f00000"/>
<circle cx="324.00" cy="84.89" r="1.65" fill="#f00000"/>
<circle cx="325.72" cy="85.22" r="1.65" fill="#f00000"/>
<circle cx="327.43" cy="85.53" r="1.65" fill="#f00000"/>
<circle cx="329.14" cy="85.83" r="1.65" fill="#f00000"/>
<circle cx="330.85" cy="86.09" r="1.65" fill="#f00000"/>
<circle cx="332.57" cy="86.33" r="1.65" fill="#f00000"/>
<circle cx="334.28" cy="86.55" r="1.65" fill="#f00000"/>
<circle cx="335.99" cy="86.72" r="1.65" fill="#f00000"/>
<circle cx="337.71" cy="86.74" r="1.65" fill="#f00000"/>
<circle cx="339.42" cy="86.51" r="1.65" fill="#f00000"/>
<circle cx="341.13" cy="86.06" r="1.65" fill="#f00000"/>
<circle cx="342.85" cy="85.37" r="1.65" fill="#f00000"/>
<circle cx="344.56" cy="84.38" r="1.65" fill="#f00000"/>
<circle cx="346.27" cy="83.03" r="1.65" fill="#f00000"/>
<circle cx="347.99" cy="81.32" r="1.65" fill="#f00000"/>
<circle cx="349.70" cy="79.32" r="1.65" fill="#f00000"/>
<circle cx="351.41" cy="77.01" r="1.65" fill="#f00000"/>
<circle cx="353.12" cy="74.07" r="1.65" fill="#f00000"/>
<circle cx="354.84" cy="70.52" r="1.65" fill="#f00000"/>
<circle cx="356.55" cy="67.01" r="1.65" fill="#f00000"/>
<circle cx="358.26" cy="63.55" r="1.65" fill="#f00000"/>
<circle cx="359.98" cy="59.35" r="1.65" fill="#f00000"/>
<circle cx="361.69" cy="53.82" r="1.65" fill="#f00000"/>
<circle cx="363.40" cy="47.98" r="1.65" fill="#f00000"/>
<circle cx="365.12" cy="42.44" r="1.65" fill="#f00000"/>
<circle cx="366.83" cy="36.64" r="1.65" fill="#f00000"/>
<circle cx="368.54" cy="30.87" r="1.65" fill="#f00000"/>
<circle cx="270.90" cy="3.08" r="1.65" fill="#1010f0"/>
<circle cx="272.61" cy="4.57" r="1.65" fill="#1010f0"/>
<circle cx="274.33" cy="7.58" r="1.65" fill="#1010f0"/>
<circle cx="276.04" cy="11.77" r="1.65" fill="#1010f0"/>
<circle cx="277.75" cy="16.78" r="1.65" fill="#1010f0"/>
<circle cx="279.46" cy="22.25" r="1.65" fill="#1010f0"/>
<circle cx="281.18" cy="27.84" r="1.65" fill="#1010f0"/>
<circle cx="282.89" cy="33.18" r="1.65" fill="#1010f0"/>
<circle cx="284.60" cy="38.01" r="1.65" fill="#1010f0"/>
<circle cx="286.32" cy="42.65" r="1.65" fill="#1010f0"/>
<circle cx="288.03" cy="47.81" r="1.65" fill="#1010f0"/>
<circle cx="289.74" cy="53.09" r="1.65" fill="#1010f0"/>
<circle cx="291.46" cy="57.74" r="1.65" fill="#1010f0"/>
<circle cx="293.17" cy="62.30" r="1.65" fill="#1010f0"/>
<circle cx="294.88" cy="65.78" r="1.65" fill="#1010f0"/>
<circle cx="296.59" cy="69.39" r="1.65" fill="#1010f0"/>
<circle cx="298.31" cy="72.46" r="1.65" fill="#1010f0"/>
<circle cx="300.02" cy="74.98" r="1.65" fill="#1010f0"/>
<circle cx="301.73" cy="77.10" r="1.65" fill="#1010f0"/>
<circle cx="303.45" cy="78.83" r="1.65" fill="#1010f0"/>
<circle cx="305.16" cy="80.18" r="1.65" fill="#1010f0"/>
<circle cx="306.87" cy="81.19" r="1.65" fill="#1010f0"/>
<circle cx="308.59" cy="81.89" r="1.65" fill="#1010f0"/>
<circle cx="310.30" cy="82.37" r="1.65" fill="#1010f0"/>
<circle cx="312.01" cy="82.69" r="1.65" fill="#1010f0"/>
<circle cx="313.72" cy="82.93" r="1.65" fill="#1010f0"/>
<circle cx="315.44" cy="83.18" r="1.65" fill="#1010f0"/>
<circle cx="317.15" cy="83.44" r="1.65" fill="#1010f0"/>
<circle cx="318.86" cy="83.73" r="1.65" fill="#1010f0"/>
<circle cx="320.58" cy="84.03" r="1.65" fill="#1010f0"/>
<circle cx="322.29" cy="84.35" r="1.65" fill="#1010f0"/>
<circle cx="324.00" cy="84.68" r="1.65" fill="#1010f0"/>
<circle cx="325.72" cy="85.02" r="1.65" fill="#1010f0"/>
<circle cx="327.43" cy="85.35" r="1.65" fill="#1010f0"/>
<circle cx="329.14" cy="85.66" r="1.65" fill="#1010f0"/>
<circle cx="330.85" cy="85.95" r="1.65" fill="#1010f0"/>
<circle cx="332.57" cy="86.22" r="1.65" fill="#1010f0"/>
<circle cx="334.28" cy="86.46" r="1.65" fill="#1010f0"/>
<circle cx="335.99" cy="86.66" r="1.65" fill="#1010f0"/>
<circle cx="337.71" cy="86.68" r="1.65" fill="#1010f0"/>
<circle cx="339.42" cy="86.41" r="1.65" fill="#1010f0"/>
<circle cx="341.13" cy="85.87" r="1.65" fill="#1010f0"/>
<circle cx="342.85" cy="85.04" r="1.65" fill="#1010f0"/>
<circle cx="344.56" cy="83.88" r="1.65" fill="#1010f0"/>
<circle cx="346.27" cy="82.32" r="1.65" fill="#1010f0"/>
<circle cx="347.99" cy="80.42" r="1.65" fill="#1010f0"/>
<circle cx="349.70" cy="78.27" r="1.65" fill="#1010f0"/>
<circle cx="351.41" cy="75.67" r="1.65" fill="#1010f0"/>
<circle cx="353.12" cy="72.36" r="1.65" fill="#1010f0"/>
<circle cx="354.84" cy="68.72" r="1.65" fill="#1010f0"/>
<circle cx="356.55" cy="65.30" r="1.65" fill="#1010f0"/>
<circle cx="358.26" cy="61.59" r="1.65" fill="#1010f0"/>
<circle cx="359.98" cy="56.74" r="1.65" fill="#1010f0"/>
<circle cx="361.69" cy="50.78" r="1.65" fill="#1010f0"/>
<circle cx="363.40" cy="45.24" r="1.65" fill="#1010f0"/>
<circle cx="365.12" cy="39.51" r="1.65" fill="#1010f0"/>
<circle cx="366.83" cy="33.73" r="1.65" fill="#1010f0"/>
<circle cx="368.54" cy="27.94" r="1.65" fill="#1010f0"/>
<circle cx="270.90" cy="224.78" r="1.65" fill="#f00000"/>
<circle cx="272.61" cy="219.74" r="1.65" fill="#f00000"/>
<circle cx="274.33" cy="215.26" r="1.65" fill="#f00000"/>
<circle cx="276.04" cy="211.06" r="1.65" fill="#f00000"/>
<circle cx="277.75" cy="206.81" r="1.65" fill="#f00000"/>
<circle cx="279.46" cy="202.62" r="1.65" fill="#f00000"/>
<circle cx="281.18" cy="198.68" r="1.65" fill="#f00000"/>
<circle cx="282.89" cy="194.95" r="1.65" fill="#f00000"/>
<circle cx="284.60" cy="191.40" r="1.65" fill="#f00000"/>
<circle cx="286.32" cy="188.06" r="1.65" fill="#f00000"/>
<circle cx="288.03" cy="185.05" r="1.65" fill="#f00000"/>
<circle cx="289.74" cy="182.38" r="1.65" fill="#f00000"/>
<circle cx="291.46" cy="180.00" r="1.65" fill="#f00000"/>
<circle cx="293.17" cy="177.95" r="1.65" fill="#f00000"/>
<circle cx="294.88" cy="176.29" r="1.65" fill="#f00000"/>
<circle cx="296.59" cy="175.03" r="1.65" fill="#f00000"/>
<circle cx="298.31" cy="174.20" r="1.65" fill="#f00000"/>
<circle cx="300.02" cy="173.74" r="1.65" fill="#f00000"/>
<circle cx="301.73" cy="173.59" r="1.65" fill="#f00000"/>
<circle cx="303.45" cy="173.69" r="1.65" fill="#f00000"/>
<circle cx="305.16" cy="174.04" r="1.65" fill="#f00000"/>
<circle cx="306.87" cy="174.64" r="1.65" fill="#f00000"/>
<circle cx="308.59" cy="175.39" r="1.65" fill="#f00000"/>
<circle cx="310.30" cy="176.22" r="1.65" fill="#f00000"/>
<circle cx="312.01" cy="177.09" r="1.65" fill="#f00000"/>
<circle cx="313.72" cy="177.95" r="1.65" fill="#f00000"/>
<circle cx="315.44" cy="178.78" r="1.65" fill="#f00000"/>
<circle cx="317.15" cy="179.56" r="1.65" fill="#f00000"/>
<circle cx="318.86" cy="180.25" r="1.65" fill="#f00000"/>
<circle cx="320.58" cy="180.86" r="1.65" fill="#f00000"/>
<circle cx="322.29" cy="181.37" r="1.65" fill="#f00000"/>
<circle cx="324.00" cy="181.78" r="1.65" fill="#f00000"/>
<circle cx="325.72" cy="182.09" r="1.65" fill="#f00000"/>
<circle cx="327.43" cy="182.32" r="1.65" fill="#f00000"/>
<circle cx="329.14" cy="182.51" r="1.65" fill="#f00000"/>
<circle cx="330.85" cy="182.68" r="1.65" fill="#f00000"/>
<circle cx="332.57" cy="182.83" r="1.65" fill="#f00000"/>
<circle cx="334.28" cy="182.95" r="1.65" fill="#f00000"/>
<circle cx="335.99" cy="183.01" r="1.65" fill="#f00000"/>
<circle cx="337.71" cy="182.99" r="1.65" fill="#f00000"/>
<circle cx="339.42" cy="182.94" r="1.65" fill="#f00000"/>
<circle cx="341.13" cy="182.98" r="1.65" fill="#f00000"/>
<circle cx="342.85" cy="183.31" r="1.65" fill="#f00000"/>
<circle cx="344.56" cy="184.06" r="1.65" fill="#f00000"/>
<circle cx="346.27" cy="185.19" r="1.65" fill="#f00000"/>
<circle cx="347.99" cy="186.53" r="1.65" fill="#f00000"/>
<circle cx="349.70" cy="187.93" r="1.65" fill="#f00000"/>
<circle cx="351.41" cy="189.34" r="1.65" fill="#f00000"/>
<circle cx="353.12" cy="190.95" r="1.65" fill="#f00000"/>
<circle cx="354.84" cy="193.14" r="1.65" fill="#f00000"/>
<circle cx="356.55" cy="195.80" r="1.65" fill="#f00000"/>
<circle cx="358.26" cy="198.72" r="1.65" fill="#f00000"/>
<circle cx="359.98" cy="202.49" r="1.65" fill="#f00000"/>
<circle cx="361.69" cy="206.90" r="1.65" fill="#f00000"/>
<circle cx="363.40" cy="210.85" r="1.65" fill="#f00000"/>
<circle cx="365.12" cy="215.29" r="1.65" fill="#f00000"/>
<circle cx="366.83" cy="219.23" r="1.65" fill="#f00000"/>
<circle cx="368.54" cy="223.36" r="1.65" fill="#f00000"/>
<circle cx="270.90" cy="220.04" r="1.65" fill="#1010f0"/>
<circle cx="272.61" cy="214.84" r="1.65" fill="#1010f0"/>
<circle cx="274.33" cy="208.30" r="1.65" fill="#1010f0"/>
<circle cx="276.04" cy="203.65" r="1.65" fill="#1010f0"/>
<circle cx="277.75" cy="197.66" r="1.65" fill="#1010f0"/>
<circle cx="279.46" cy="193.02" r="1.65" fill="#1010f0"/>
<circle cx="281.18" cy="188.62" r="1.65" fill="#1010f0"/>
<circle cx="282.89" cy="183.78" r="1.65" fill="#1010f0"/>
<circle cx="284.60" cy="179.56" r="1.65" fill="#1010f0"/>
<circle cx="286.32" cy="176.15" r="1.65" fill="#1010f0"/>
<circle cx="288.03" cy="172.68" r="1.65" fill="#1010f0"/>
<circle cx="289.74" cy="169.34" r="1.65" fill="#1010f0"/>
<circle cx="291.46" cy="166.67" r="1.65" fill="#1010f0"/>
<circle cx="293.17" cy="164.62" r="1.65" fill="#1010f0"/>
<circle cx="294.88" cy="163.04" r="1.65" fill="#1010f0"/>
<circle cx="296.59" cy="161.83" r="1.65" fill="#1010f0"/>
<circle cx="298.31" cy="160.94" r="1.65" fill="#1010f0"/>
<circle cx="300.02" cy="160.33" r="1.65" fill="#1010f0"/>
<circle cx="301.73" cy="160.02" r="1.65" fill="#1010f0"/>
<circle cx="303.45" cy="160.03" r="1.65" fill="#1010f0"/>
<circle cx="305.16" cy="160.31" r="1.65" fill="#1010f0"/>
<circle cx="306.87" cy="160.82" r="1.65" fill="#1010f0"/>
<circle cx="308.59" cy="161.49" r="1.65" fill="#1010f0"/>
<circle cx="310.30" cy="162.27" r="1.65" fill="#1010f0"/>
<circle cx="312.01" cy="163.10" r="1.65" fill="#1010f0"/>
<circle cx="313.72" cy="163.95" r="1.65" fill="#1010f0"/>
<circle cx="315.44" cy="164.79" r="1.65" fill="#1010f0"/>
<circle cx="317.15" cy="165.55" r="1.65" fill="#1010f0"/>
<circle cx="318.86" cy="166.25" r="1.65" fill="#1010f0"/>
<circle cx="320.58" cy="166.85" r="1.65" fill="#1010f0"/>
<circle cx="322.29" cy="167.37" r="1.65" fill="#1010f0"/>
<circle cx="324.00" cy="167.78" r="1.65" fill="#1010f0"/>
<circle cx="325.72" cy="168.11" r="1.65" fill="#1010f0"/>
<circle cx="327.43" cy="168.35" r="1.65" fill="#1010f0"/>
<circle cx="329.14" cy="168.53" r="1.65" fill="#1010f0"/>
<circle cx="330.85" cy="168.66" r="1.65" fill="#1010f0"/>
<circle cx="332.57" cy="168.75" r="1.65" fill="#1010f0"/>
<circle cx="334.28" cy="168.81" r="1.65" fill="#1010f0"/>
<circle cx="335.99" cy="168.86" r="1.65" fill="#1010f0"/>
<circle cx="337.71" cy="168.91" r="1.65" fill="#1010f0"/>
<circle cx="339.42" cy="168.97" r="1.65" fill="#1010f0"/>
<circle cx="341.13" cy="169.13" r="1.65" fill="#1010f0"/>
<circle cx="342.85" cy="169.45" r="1.65" fill="#1010f0"/>
<circle cx="344.56" cy="170.02" r="1.65" fill="#1010f0"/>
<circle cx="346.27" cy="171.02" r="1.65" fill="#1010f0"/>
<circle cx="347.99" cy="172.61" r="1.65" fill="#1010f0"/>
<circle cx="349.70" cy="174.41" r="1.65" fill="#1010f0"/>
<circle cx="351.41" cy="176.19" r="1.65" fill="#1010f0"/>
<circle cx="353.12" cy="178.30" r="1.65" fill="#1010f0"/>
<circle cx="354.84" cy="181.08" r="1.65" fill="#1010f0"/>
<circle cx="356.55" cy="184.19" r="1.65" fill="#1010f0"/>
<circle cx="358.26" cy="187.14" r="1.65" fill="#1010f0"/>
<circle cx="359.98" cy="190.34" r="1.65" fill="#1010f0"/>
<circle cx="361.69" cy="194.31" r="1.65" fill="#1010f0"/>
<circle cx="363.40" cy="199.14" r="1.65" fill="#1010f0"/>
<circle cx="365.12" cy="203.75" r="1.65" fill="#1010f0"/>
<circle cx="366.83" cy="208.72" r="1.65" fill="#1010f0"/>
<circle cx="368.54" cy="214.43" r="1.65" fill="#1010f0"/>
</g>
<g stroke="#222222" stroke-width="1.05" fill="none">
<path d="M271.50 39.50 H370.00 V222.40 H271.50 Z"/>
<path d="M271.50 39.50 h-2.30"/>
<path d="M271.50 54.74 h-1.00"/>
<path d="M271.50 69.98 h-2.30"/>
<path d="M271.50 85.22 h-1.00"/>
<path d="M271.50 100.47 h-2.30"/>
<path d="M271.50 115.71 h-1.00"/>
<path d="M271.50 130.95 h-2.30"/>
<path d="M271.50 146.19 h-1.00"/>
<path d="M271.50 161.43 h-2.30"/>
<path d="M271.50 176.68 h-1.00"/>
<path d="M271.50 191.92 h-2.30"/>
<path d="M271.50 207.16 h-1.00"/>
<path d="M271.50 222.40 h-2.30"/>
<path d="M275.10 39.50 v-2.4"/>
<path d="M306.30 39.50 v-2.4"/>
<path d="M337.50 39.50 v-2.4"/>
<path d="M370.00 39.50 v-2.4"/>
<path d="M271.50 222.40 v2.3"/>
<path d="M337.50 222.40 v2.3"/>
<path d="M370.00 222.40 v2.3"/>
</g>
<rect x="384.80" y="61.50" width="6.50" height="160.90" fill="url(#cbar)" stroke="#1a1a1a" stroke-width="1"/>
<g stroke="#1a1a1a" stroke-width="0.9">
<path d="M391.30 77.59 h-1.6M384.80 77.59 h1.6"/>
<path d="M391.30 93.68 h-1.6M384.80 93.68 h1.6"/>
<path d="M391.30 109.77 h-1.6M384.80 109.77 h1.6"/>
<path d="M391.30 125.86 h-1.6M384.80 125.86 h1.6"/>
<path d="M391.30 141.95 h-1.6M384.80 141.95 h1.6"/>
<path d="M391.30 158.04 h-1.6M384.80 158.04 h1.6"/>
<path d="M391.30 174.13 h-1.6M384.80 174.13 h1.6"/>
<path d="M391.30 190.22 h-1.6M384.80 190.22 h1.6"/>
<path d="M391.30 206.31 h-1.6M384.80 206.31 h1.6"/>
</g>
</svg>
<svg width="411" height="247" viewBox="0 0 411 247" style="font-family:'Liberation Serif',serif;text-rendering:geometricPrecision;will-change:transform;transform:translateZ(0)" fill="#0c0c0c" stroke="#0c0c0c" stroke-width="0.12"><text x="38.90" y="23.10" text-anchor="end" font-size="13.50" >1.5</text>
<text x="38.90" y="56.90" text-anchor="end" font-size="13.50" >1</text>
<text x="38.90" y="90.70" text-anchor="end" font-size="13.50" >0.5</text>
<text x="38.90" y="124.50" text-anchor="end" font-size="13.50" >0</text>
<text x="38.90" y="158.30" text-anchor="end" font-size="13.50" >-0.5</text>
<text x="38.90" y="192.10" text-anchor="end" font-size="13.50" >-1</text>
<text x="38.90" y="225.90" text-anchor="end" font-size="13.50" >-1.5</text>
<text x="46.20" y="238.20" text-anchor="middle" font-size="13.50" >Γ</text>
<text x="122.00" y="238.20" text-anchor="middle" font-size="13.50" >K</text>
<text x="160.10" y="238.20" text-anchor="middle" font-size="13.50" >M</text>
<text x="226.90" y="238.20" text-anchor="middle" font-size="13.50" >K</text>
<text x="3.50" y="15.30" text-anchor="start" font-size="13.50" >(a)</text>
<text x="244.30" y="15.30" text-anchor="start" font-size="13.50" >(b)</text>
<text x="265.60" y="43.50" text-anchor="end" font-size="13.50" >15</text>
<text x="265.60" y="73.98" text-anchor="end" font-size="13.50" >10</text>
<text x="265.60" y="104.47" text-anchor="end" font-size="13.50" >5</text>
<text x="265.60" y="134.95" text-anchor="end" font-size="13.50" >0</text>
<text x="265.60" y="165.43" text-anchor="end" font-size="13.50" >-5</text>
<text x="265.60" y="195.92" text-anchor="end" font-size="13.50" >-10</text>
<text x="265.60" y="226.40" text-anchor="end" font-size="13.50" >-15</text>
<text x="275.00" y="35.20" text-anchor="middle" font-size="13.50" >2</text>
<text x="306.10" y="35.20" text-anchor="middle" font-size="13.50" >1</text>
<text x="337.00" y="35.20" text-anchor="middle" font-size="13.50" >0</text>
<text x="367.60" y="35.20" text-anchor="middle" font-size="13.50" >1</text>
<text x="320.60" y="16.70" text-anchor="middle" font-size="14.00" ><tspan font-style="italic">k</tspan> [10<tspan dy="-4.8" font-size="10">−2</tspan><tspan dy="4.8">/Å]</tspan></text>
<text x="265.90" y="238.20" text-anchor="start" font-size="13.50" fill="#555" stroke="#555">Γ</text>
<path d="M289.9 234.9 H278.6 M281.8 232.2 Q280.6 234.3 278.4 234.9 Q280.6 235.5 281.8 237.6" fill="none" stroke="#555" stroke-width="0.8"/>
<text x="337.60" y="238.20" text-anchor="middle" font-size="13.50" >K</text>
<text x="371.50" y="238.20" text-anchor="middle" font-size="13.50" >M</text>
<path d="M349.8 234.9 H360.6 M357.4 232.2 Q358.6 234.3 360.8 234.9 Q358.6 235.5 357.4 237.6" fill="none" stroke="#111" stroke-width="0.8"/>
<path d="M378.4 38.2 L375.6 43.9 L378.4 49.6 M392.3 38.2 L395.1 43.9 L392.3 49.6 M401.6 38.2 L397.2 49.6" fill="none" stroke="#111" stroke-width="0.85"/>
<text x="379.30" y="47.60" text-anchor="start" font-size="14.50" ><tspan font-style="italic">s</tspan><tspan font-style="italic" dy="2.4" font-size="10">z</tspan></text>
<text x="402.00" y="47.60" text-anchor="start" font-size="14.50" ><tspan font-style="italic">ħ</tspan></text>
<text x="393.00" y="65.30" text-anchor="start" font-size="11.50" >0.5</text>
<text x="398.00" y="145.70" text-anchor="start" font-size="11.50" >0</text>
<text x="391.70" y="226.00" text-anchor="start" font-size="11.50" >-0.5</text>
<text transform="translate(12.90 119.00) rotate(-90)" text-anchor="middle" font-size="14.3"><tspan font-style="italic">E</tspan> − <tspan font-style="italic">E</tspan><tspan dy="2.8" font-size="10.3">F</tspan><tspan dy="-2.8"> [eV]</tspan></text>
<text transform="translate(247.40 130.40) rotate(-90)" text-anchor="middle" font-size="14.3"><tspan font-style="italic">E</tspan> − <tspan font-style="italic">E</tspan><tspan dy="2.8" font-size="10.3">F</tspan><tspan dy="-2.8"> [meV]</tspan></text></svg>
</body></html>
